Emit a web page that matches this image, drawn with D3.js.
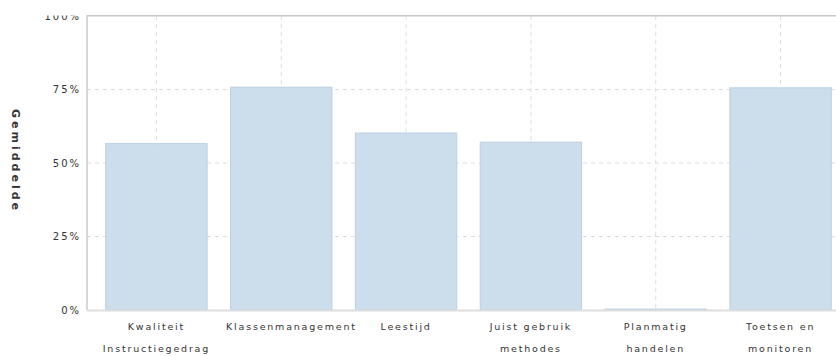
<!DOCTYPE html>
<html>
<head>
<meta charset="utf-8">
<script src="https://cdn.jsdelivr.net/npm/d3@7"></script>
<style>
  body { margin: 0; background: #fff; }
  text { font-family: "DejaVu Sans", Verdana, sans-serif; fill: #333; }
</style>
</head>
<body>
<svg id="chart" width="836" height="356"></svg>
<script>
// categories (wrapped into lines) and averages
var categories = [
  ["Kwaliteit", "Instructiegedrag"],
  ["Klassenmanagement"],
  ["Leestijd"],
  ["Juist gebruik", "methodes"],
  ["Planmatig", "handelen"],
  ["Toetsen en", "monitoren"]
];
var values = [0.568, 0.760, 0.604, 0.573, 0.005, 0.758];
var yTicks = [0, 0.25, 0.5, 0.75, 1];

var svg = d3.select("#chart");

var plotLeft = 87, plotTop = 16.2, plotBottom = 310, plotRight = 836;

var x = d3.scaleBand()
    .domain(d3.range(categories.length))
    .range([94, 843])
    .paddingInner(0.18)
    .paddingOuter(0.09);

var y = d3.scaleLinear().domain([0, 1]).range([plotBottom, plotTop]);

// clip so the top tick label is cut at the chart's top edge
svg.append("defs").append("clipPath").attr("id", "clipTop")
  .append("rect").attr("x", 0).attr("y", 15.5).attr("width", 836).attr("height", 340);

// gridlines
svg.append("g")
  .selectAll("line")
  .data(yTicks.filter(function(d) { return d > 0 && d < 1; }))
  .enter().append("line")
    .attr("x1", plotLeft).attr("x2", plotRight)
    .attr("y1", function(d) { return y(d); })
    .attr("y2", function(d) { return y(d); })
    .attr("stroke", "#dcdcdc")
    .attr("stroke-dasharray", "4,4");

svg.append("g")
  .selectAll("line")
  .data(d3.range(categories.length))
  .enter().append("line")
    .attr("x1", function(d) { return x(d) + x.bandwidth() / 2; })
    .attr("x2", function(d) { return x(d) + x.bandwidth() / 2; })
    .attr("y1", plotTop).attr("y2", plotBottom)
    .attr("stroke", "#dcdcdc")
    .attr("stroke-dasharray", "4,4");

// bars
svg.append("g")
  .selectAll("rect")
  .data(values)
  .enter().append("rect")
    .attr("x", function(d, i) { return x(i) + 0.5; })
    .attr("y", function(d) { return y(d) + 0.5; })
    .attr("width", x.bandwidth() - 1)
    .attr("height", function(d) { return Math.max(0, plotBottom - y(d) - 0.5); })
    .attr("fill", "#c9dbea")
    .attr("fill-opacity", 0.95)
    .attr("stroke", "#bad0e4")
    .attr("stroke-width", 1);

// frame
svg.append("line")
  .attr("x1", plotLeft).attr("x2", plotRight).attr("y1", plotTop - 0.5).attr("y2", plotTop - 0.5)
  .attr("stroke", "#c8c8c8").attr("stroke-width", 1.5);
svg.append("line")
  .attr("x1", plotLeft).attr("x2", plotLeft).attr("y1", plotTop - 1).attr("y2", plotBottom)
  .attr("stroke", "#c8c8c8").attr("stroke-width", 1.5);
svg.append("line")
  .attr("x1", plotLeft).attr("x2", plotRight).attr("y1", plotBottom + 0.5).attr("y2", plotBottom + 0.5)
  .attr("stroke", "#dedede").attr("stroke-width", 2);

// y axis labels
var yAxis = d3.axisLeft(y)
    .tickValues(yTicks)
    .tickFormat(d3.format(".0%"))
    .tickSize(0)
    .tickPadding(6);
var gy = svg.append("g")
  .attr("clip-path", "url(#clipTop)")
  .append("g")
  .attr("transform", "translate(" + plotLeft + ",0)").call(yAxis);
gy.select(".domain").remove();
gy.selectAll("text")
  .style("font-size", "10px")
  .style("letter-spacing", "2px")
  .style("font-family", "'DejaVu Sans', sans-serif")
  .attr("fill", "#333");

// x axis labels
var xl = svg.append("g")
  .selectAll("text")
  .data(categories)
  .enter().append("text")
    .attr("x", function(d, i) { return x(i) + x.bandwidth() / 2; })
    .attr("y", 330)
    .attr("text-anchor", "middle")
    .style("font-size", "9.5px")
    .style("letter-spacing", "1.8px");
xl.selectAll("tspan")
  .data(function(d) { return d; })
  .enter().append("tspan")
    .attr("x", function() { return d3.select(this.parentNode).attr("x"); })
    .attr("dy", function(d, i) { return i === 0 ? 0 : 22; })
    .text(function(d) { return d; });
// labels wider than their band start at the band's left edge instead
xl.each(function(d, i) {
  if (this.getBBox().width > x.step() - 6) {
    d3.select(this).attr("text-anchor", "start")
      .selectAll("tspan").attr("x", x(i) - 4);
  }
});

// y title
svg.append("text")
  .attr("transform", "translate(12,161) rotate(90)")
  .attr("text-anchor", "middle")
  .style("font-size", "11px")
  .style("font-weight", "bold")
  .style("letter-spacing", "3px")
  .text("Gemiddelde");
</script>
</body>
</html>
